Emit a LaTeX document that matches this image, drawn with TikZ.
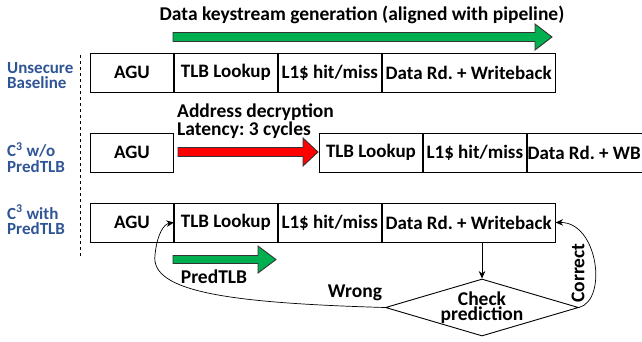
\documentclass[tikz,border=0pt]{standalone}
\usepackage{fontspec}
\setmainfont{Carlito}
\usetikzlibrary{arrows.meta,positioning,shapes.geometric}
\frenchspacing

\definecolor{labelblue}{RGB}{47,85,151}
\definecolor{arrowgreen}{RGB}{0,176,80}

% block arrow: {x start}{x head base}{x tip}{y centre}{colour}{shaft half}{head half}
\newcommand{\blockarrow}[7]{%
  \filldraw[draw=black!80, fill=#5, line width=0.9pt]
    (#1,#4-#6) -- (#2,#4-#6) -- (#2,#4-#7) -- (#3,#4) -- (#2,#4+#7)
    -- (#2,#4+#6) -- (#1,#4+#6) -- cycle;}

\tikzset{
  stage/.style={draw, line width=0.9pt, minimum height=39pt, inner sep=0pt,
    font=\bfseries\fontsize{19}{20}\selectfont},
  rowlabel/.style={anchor=west, align=left, text=labelblue, inner sep=0pt,
    font=\bfseries\fontsize{17}{15.5}\selectfont},
  note/.style={inner sep=0pt, font=\bfseries\fontsize{19.5}{15.5}\selectfont},
}

\begin{document}
\begin{tikzpicture}[x=1pt, y=-1pt, >={Stealth[length=7.5pt,width=6.5pt]}]
\path[use as bounding box] (0,0) rectangle (642,341);

% unsecure baseline
\node[stage, minimum width=83pt, anchor=west] (b1agu) at (90,72.5) {AGU};
\node[stage, minimum width=103pt, right=0pt of b1agu] (b1tlb) {TLB Lookup};
\node[stage, minimum width=103pt, right=0pt of b1tlb] (b1l1) {L1\$ hit/miss};
\node[stage, minimum width=173pt, right=0pt of b1l1] (b1data) {Data Rd. + Writeback};

% C3 without predtlb
\node[stage, minimum width=83pt, anchor=west] (b2agu) at (90,152.5) {AGU};
\node[stage, minimum width=103pt, anchor=west] (b2tlb) at (319,152.5) {TLB Lookup};
\node[stage, minimum width=103pt, right=0pt of b2tlb] (b2l1) {L1\$ hit/miss};
\node[stage, minimum width=119pt, right=0pt of b2l1] (b2data) {Data Rd. + WB\hspace*{5pt}};

% C3 with predtlb
\node[stage, minimum width=83pt, anchor=west] (b3agu) at (90,222.5) {AGU};
\node[stage, minimum width=103pt, right=0pt of b3agu] (b3tlb) {TLB Lookup};
\node[stage, minimum width=103pt, right=0pt of b3tlb] (b3l1) {L1\$ hit/miss};
\node[stage, minimum width=173pt, right=0pt of b3l1] (b3data) {Data Rd. + Writeback};

% row labels
\node[rowlabel] (l1) at (7,75.5) {Unsecure\\Baseline};
\node[rowlabel] (l2) at (7,157.5) {C\textsuperscript{3} w/o\\PredTLB};
\node[rowlabel] (l3) at (7,220) {C\textsuperscript{3} with\\PredTLB};
\draw[dashed, line width=0.8pt] (80,55) -- (80,258);

% block arrows
\blockarrow{173}{535}{552}{37}{arrowgreen}{4.5}{13}
\blockarrow{178}{303}{318}{152}{red}{4.5}{14}
\blockarrow{173}{258}{276}{259.5}{arrowgreen}{4}{13.5}

\node[note] (keys) at (362,15) {Data keystream generation (aligned with pipeline)};
\node[note, anchor=west, align=left] (dec) at (177,121) {Address decryption\\Latency: 3 cycles};
\node[note] (ptlb) at (214,277) {PredTLB};

% prediction check
\node[draw, diamond, line width=0.9pt, minimum width=193pt, minimum height=57pt,
  inner sep=0pt, label={[note, align=center]center:Check\\prediction}]
  (chk) at (482,307.5) {};
\draw[->, line width=0.7pt] (chk.north |- b3data.south) -- (chk.north);
\draw[->, line width=0.7pt] (chk.west) .. controls (230,303) and (150,292) .. (155,255)
  .. controls (157,234) and (164,224) .. (b3agu.east);
\draw[->, line width=0.7pt] (chk.east) .. controls (608,300) and (598,222) .. (b3data.east);
\node[note] (wrong) at (355,293) {Wrong};
\node[note, rotate=90] (correct) at (578,273) {Correct};
\end{tikzpicture}
\end{document}
